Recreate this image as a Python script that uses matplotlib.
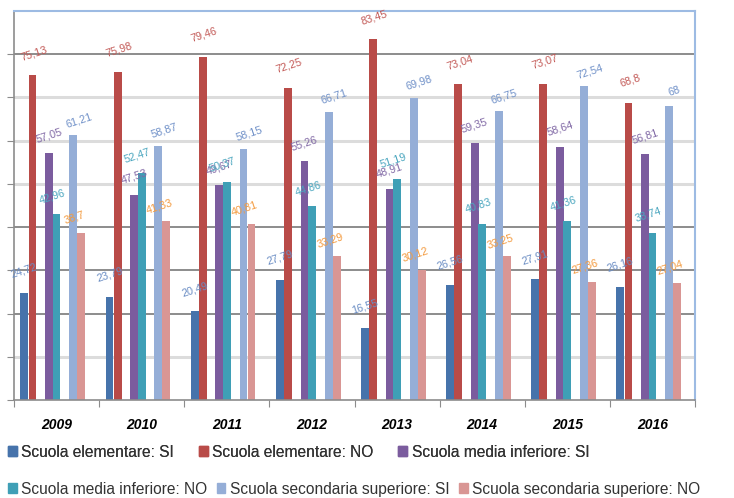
import matplotlib
matplotlib.use("Agg")
import matplotlib.pyplot as plt
import numpy as np
from matplotlib.patches import Patch

years = ["2009", "2010", "2011", "2012", "2013", "2014", "2015", "2016"]
series_names = [
    "Scuola elementare: SI",
    "Scuola elementare: NO",
    "Scuola media inferiore: SI",
    "Scuola media inferiore: NO",
    "Scuola secondaria superiore: SI",
    "Scuola secondaria superiore: NO",
]
elem_si = [24.72, 23.79, 20.49, 27.79, 16.55, 26.56, 27.91, 26.16]
elem_no = [75.13, 75.98, 79.46, 72.25, 83.45, 73.04, 73.07, 68.8]
media_si = [57.05, 47.53, 49.67, 55.26, 48.91, 59.35, 58.64, 56.81]
media_no = [42.96, 52.47, 50.37, 44.86, 51.19, 40.83, 41.36, 38.74]
sup_si = [61.21, 58.87, 58.15, 66.71, 69.98, 66.75, 72.54, 68]
sup_no = [38.7, 41.33, 40.81, 33.29, 30.12, 33.25, 27.36, 27.04]
series = [elem_si, elem_no, media_si, media_no, sup_si, sup_no]

bar_colors = ["#4673ab", "#b94b48", "#7b5c9e", "#3f9fb6", "#95aed7", "#d99694"]
label_colors = ["#6a8dc4", "#c35a57", "#8068a5", "#4aa6bf", "#6f90c8", "#f39a3e"]
# bar centre offsets inside a year group and label offsets (points) per series
offsets = [-0.378, -0.282, -0.088, 0.0, 0.196, 0.290]
label_shift = [(0, 16), (1, 16), (0, 13), (-3, 13), (4, 11), (-5, 11)]
width = 0.092

plt.rcParams["font.family"] = ["Liberation Sans", "DejaVu Sans"]

fig = plt.figure(figsize=(7.34, 4.98), dpi=100)
ax = fig.add_axes([14 / 734, 98 / 498, 681 / 734, 389 / 498])
x = np.arange(len(years))

grid_colors = {10: "#dcdcdc", 20: "#8c8c8c", 30: "#8c8c8c", 40: "#8c8c8c",
               50: "#dcdcdc", 60: "#dcdcdc", 70: "#dcdcdc", 80: "#8c8c8c"}
for level, col in grid_colors.items():
    lw = 2.2 if col == "#dcdcdc" else 1.4
    ax.axhline(level, color=col, lw=lw, zorder=0)

for values, off, col, lcol, (dx, dy) in zip(series, offsets, bar_colors, label_colors, label_shift):
    ax.bar(x + off, values, width=width, color=col, zorder=2)
    for xi, v in zip(x, values):
        ax.annotate(f"{v:g}".replace(".", ","), (xi + off, v), xytext=(dx, dy),
                    textcoords="offset points", ha="center", va="center",
                    rotation=18, fontsize=7.8, color=lcol, zorder=3)

ax.set_xlim(-0.5, len(years) - 0.5)
ax.set_ylim(0, 90)
ax.set_yticks(range(0, 90, 10))
ax.set_yticklabels([])
ax.set_xticks(np.arange(len(years) + 1) - 0.5)
ax.set_xticklabels([])
ax.set_xticks(x, minor=True)
ax.set_xticklabels(years, minor=True, fontsize=10, fontweight="bold", fontstyle="italic")
ax.tick_params(axis="x", which="minor", length=0, pad=13)
ax.tick_params(axis="both", which="major", length=5, color="#8c8c8c", direction="out")

for side in ("left", "bottom"):
    ax.spines[side].set_color("#8c8c8c")
    ax.spines[side].set_linewidth(1.2)
for side in ("top", "right"):
    ax.spines[side].set_color("#9dbbe3")
    ax.spines[side].set_linewidth(1.5)

handles = [Patch(color=c) for c in bar_colors]
leg_style = dict(frameon=False, fontsize=11.2, handlelength=0.55, handleheight=0.55,
                 handletextpad=0.3, borderaxespad=0, labelcolor="#333333")
leg1 = fig.legend(handles[:3], series_names[:3], ncol=3, loc="center left",
                  bbox_to_anchor=(2 / 734, 1 - 452 / 498), columnspacing=1.6, **leg_style)
fig.add_artist(leg1)
fig.legend(handles[3:], series_names[3:], ncol=3, loc="center left",
           bbox_to_anchor=(2 / 734, 1 - 489 / 498), columnspacing=0.6, **leg_style)

fig.savefig("out.png", dpi=100)
